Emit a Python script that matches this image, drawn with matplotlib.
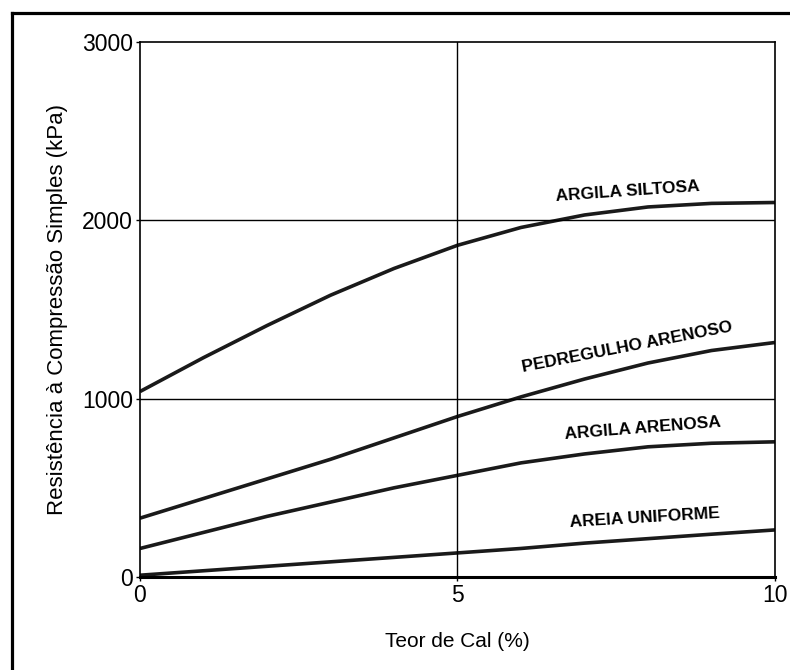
import matplotlib.pyplot as plt
from matplotlib.lines import Line2D

# data (kPa vs % lime)
teor_cal = [0, 1, 2, 3, 4, 5, 6, 7, 8, 9, 10]
argila_siltosa = [1040, 1230, 1410, 1580, 1730, 1860, 1960, 2030, 2075, 2095, 2100]
pedregulho_arenoso = [330, 440, 550, 660, 780, 900, 1010, 1110, 1200, 1270, 1315]
argila_arenosa = [160, 250, 340, 420, 500, 570, 640, 690, 730, 750, 758]
areia_uniforme = [10, 35, 60, 85, 110, 135, 160, 190, 215, 240, 264]

x_ticks = [0, 5, 10]
y_ticks = [0, 1000, 2000, 3000]

plt.rcParams['font.family'] = ['Liberation Sans', 'DejaVu Sans']

fig = plt.figure(figsize=(7.9, 6.7), dpi=100)
ax = fig.add_axes([140 / 790, 1 - 577 / 670, 635 / 790, 535 / 670])

# outer frame (top and left edge of the scanned page)
fig.add_artist(Line2D([12 / 790, 12 / 790], [0, 1 - 13 / 670], color='black', lw=2.3, transform=fig.transFigure))
fig.add_artist(Line2D([12 / 790, 1], [1 - 13 / 670, 1 - 13 / 670], color='black', lw=2.3, transform=fig.transFigure))

for serie in [argila_siltosa, pedregulho_arenoso, argila_arenosa, areia_uniforme]:
    ax.plot(teor_cal, serie, color='#1a1a1a', lw=2.6, solid_capstyle='butt')

# grid lines
for yv in [1000, 2000]:
    ax.axhline(yv, color='black', lw=1.0)
ax.axvline(5, color='black', lw=1.0)

ax.set_xlim(0, 10)
ax.set_ylim(0, 3000)
ax.set_xticks(x_ticks)
ax.set_yticks(y_ticks)
ax.tick_params(direction='out', length=3, width=1, labelsize=16.5, pad=2)
for s in ax.spines.values():
    s.set_linewidth(1.2)
ax.spines['bottom'].set_linewidth(2.2)

ax.set_xlabel('Teor de Cal (%)', fontsize=15, labelpad=18)
ax.set_ylabel('Resistência à Compressão Simples (kPa)', fontsize=16, labelpad=10)

lbl = dict(fontsize=12.5, fontweight='bold', ha='center', va='center')
ax.text(7.68, 2160, 'ARGILA SILTOSA', rotation=4, **lbl)
ax.text(7.68, 1290, 'PEDREGULHO ARENOSO', rotation=11, **lbl)
ax.text(7.91, 836, 'ARGILA ARENOSA', rotation=4.5, **lbl)
ax.text(7.95, 330, 'AREIA UNIFORME', rotation=3.5, **lbl)

fig.savefig('out.png', dpi=100)
